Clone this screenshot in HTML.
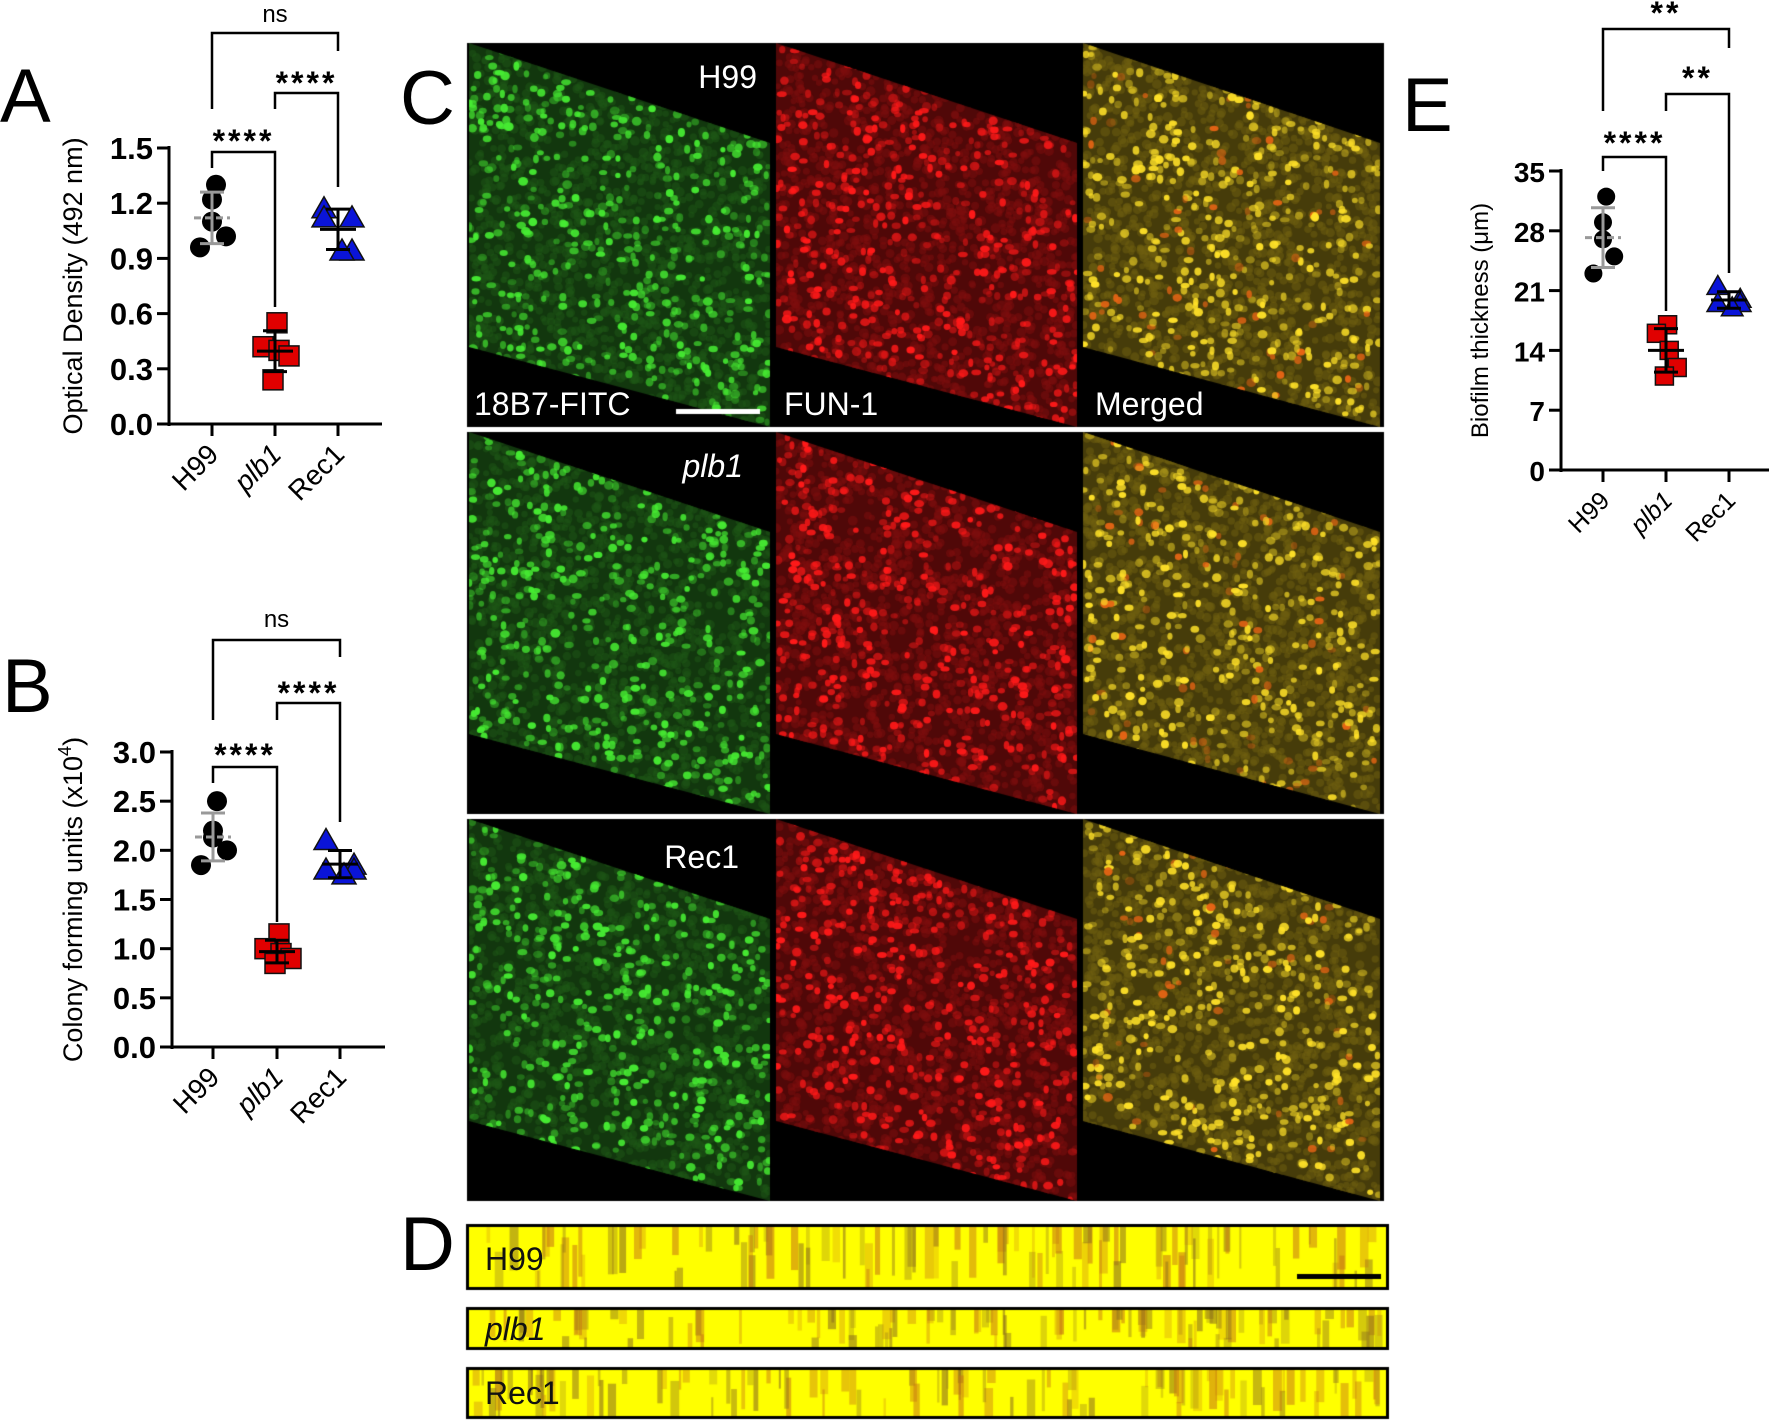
<!DOCTYPE html>
<html><head><meta charset="utf-8">
<style>
body{margin:0;background:#fff;}
#root{position:relative;width:1772px;height:1421px;overflow:hidden;background:#fff;font-family:"Liberation Sans",sans-serif;}
svg{position:absolute;left:0;top:0}
canvas{position:absolute}
</style></head>
<body>
<div id="root">
<canvas id="cv" width="1772" height="1421" style="left:0;top:0"></canvas>
<svg id="sv" width="1772" height="1421"></svg>
</div>
<script>
// ---- chart data ----
const categories = ["H99","plb1","Rec1"];
const aH99 = [1.30,1.22,1.10,1.02,0.96];
const aPlb1 = [0.55,0.42,0.40,0.37,0.24];
const aRec1 = [1.17,1.12,1.12,0.94,0.94];
const aTicks = ["0.0","0.3","0.6","0.9","1.2","1.5"];
const bH99 = [2.50,2.20,2.13,2.00,1.85];
const bPlb1 = [1.15,1.00,0.95,0.90,0.85];
const bRec1 = [2.10,1.85,1.80,1.80,1.75];
const bTicks = ["0.0","0.5","1.0","1.5","2.0","2.5","3.0"];
const eH99 = [32,29,27,25,23];
const ePlb1 = [17,16,14,12,11];
const eRec1 = [21.5,20,19.5,19.5,19];
const eTicks = ["0","7","14","21","28","35"];

const NS="http://www.w3.org/2000/svg";
const sv=document.getElementById('sv');
function el(tag,attrs,parent,txt){const e=document.createElementNS(NS,tag);for(const k in attrs)e.setAttribute(k,attrs[k]);if(txt!==undefined)e.textContent=txt;(parent||sv).appendChild(e);return e;}
function mean(a){return a.reduce((s,v)=>s+v,0)/a.length;}
function sd(a){const m=mean(a);return Math.sqrt(a.reduce((s,v)=>s+(v-m)*(v-m),0)/(a.length-1));}

const jitter=[[4,0,0,14,-12],[2,-12,4,14,-2],[-14,14,-14,14,4]];

function plot(cfg){
  const g=el('g',{});
  
  
  const ticks=cfg.ticks.map(Number);
  const ymin=ticks[0],ymax=ticks[ticks.length-1];
  const Y=v=>cfg.y0+(v-ymin)/(ymax-ymin)*(cfg.y1-cfg.y0);
  const X=i=>cfg.xs[i];
  const ya=el('line',{x1:cfg.ax,y1:cfg.y1-2,x2:cfg.ax,y2:cfg.y0+2,stroke:'#000','stroke-width':3},g);
  
  const xa=el('line',{x1:cfg.ax-12,y1:cfg.y0,x2:cfg.axEnd,y2:cfg.y0,stroke:'#000','stroke-width':3},g);
  
  cfg.ticks.forEach((t,i)=>{
    const y=Y(ticks[i]);
    el('line',{x1:cfg.ax-12,y1:y,x2:cfg.ax,y2:y,stroke:'#000','stroke-width':3},g);
    const tx=el('text',{x:cfg.ax-16,y:y+11,'text-anchor':'end','font-size':cfg.tickFs||31,'font-weight':'bold'},g,t);
    
  });
  categories.forEach((c,i)=>{
    el('line',{x1:X(i),y1:cfg.y0,x2:X(i),y2:cfg.y0+12,stroke:'#000','stroke-width':3},g);
    const tx=el('text',{x:X(i)+8,y:cfg.y0+32,'text-anchor':'end','font-size':cfg.catFs||28,'font-style':c==='plb1'?'italic':'normal',transform:`rotate(-45 ${X(i)+8} ${cfg.y0+32})`},g,c);
    
  });
  const yl=el('text',{x:cfg.ylx,y:(cfg.y0+cfg.y1)/2,'text-anchor':'middle','font-size':cfg.ylFs||27,transform:`rotate(-90 ${cfg.ylx} ${(cfg.y0+cfg.y1)/2})`},g);
  yl.innerHTML=cfg.ylabel;
  
  const cols=['#000','#e00000','#0a14d8'];
  cfg.series.forEach((s,i)=>{
    s.forEach((v,j)=>{
      const x=X(i)+jitter[i][j]*cfg.js,y=Y(v);let m;const r=cfg.r;
      if(i===0)m=el('circle',{cx:x,cy:y,r:r,fill:'#000'},g);
      else if(i===1)m=el('rect',{x:x-r,y:y-r,width:2*r,height:2*r,fill:cols[1],stroke:'#111','stroke-width':1.5},g);
      else m=el('polygon',{points:`${x},${y-r*1.2} ${x+r*1.2},${y+r*0.9} ${x-r*1.2},${y+r*0.9}`,fill:cols[2],stroke:'#111','stroke-width':1.5},g);
      
      
    });
    const m=mean(s),d=sd(s),col=i===0?'#999':'#000';
    el('line',{x1:X(i),y1:Y(m+d),x2:X(i),y2:Y(m-d),stroke:col,'stroke-width':3},g);
    el('line',{x1:X(i)-12,y1:Y(m+d),x2:X(i)+12,y2:Y(m+d),stroke:col,'stroke-width':3},g);
    el('line',{x1:X(i)-12,y1:Y(m-d),x2:X(i)+12,y2:Y(m-d),stroke:col,'stroke-width':3},g);
    const ml=el('line',{x1:X(i)-18,y1:Y(m),x2:X(i)+18,y2:Y(m),stroke:col,'stroke-width':3,'stroke-dasharray':i===0?'7,4':'none'},g);
    
  });
  cfg.brackets.forEach(b=>{
    const p=el('path',{d:`M${X(b.a)},${b.ya} V${b.y} H${X(b.b)} V${b.yb}`,fill:'none',stroke:'#000','stroke-width':2.5},g);
    
    const t=el('text',{x:(X(b.a)+X(b.b))/2,y:b.ty,'text-anchor':'middle','font-size':b.t==='ns'?24:32,'font-weight':b.t==='ns'?'normal':'bold','letter-spacing':b.t==='ns'?0:3},g,b.t);
    
  });
}

plot({name:'panel-a-chart',ticks:aTicks,y0:424,y1:148,ax:169,axEnd:382,xs:[212,275,338],r:10,js:1,
  series:[aH99,aPlb1,aRec1],ylx:82,ylabel:'Optical Density (492 nm)',
  brackets:[{a:0,b:2,y:33,ya:109,yb:51,t:'ns',ty:22},{a:1,b:2,y:93,ya:109,yb:187,t:'****',ty:94},{a:0,b:1,y:152,ya:168,yb:307,t:'****',ty:152}]});
plot({name:'panel-b-chart',ticks:bTicks,y0:1047,y1:752,ax:172,axEnd:385,xs:[213,277,340],r:10,js:1,
  series:[bH99,bPlb1,bRec1],ylx:82,ylabel:'Colony forming units (x10<tspan dy="-11" font-size="18">4</tspan><tspan dy="11">)</tspan>',
  brackets:[{a:0,b:2,y:640,ya:720,yb:657,t:'ns',ty:627},{a:1,b:2,y:703,ya:720,yb:822,t:'****',ty:704},{a:0,b:1,y:767,ya:783,yb:922,t:'****',ty:766}]});
plot({name:'panel-e-chart',ticks:eTicks,y0:470,y1:171,ax:1561,axEnd:1769,xs:[1603,1666,1729],r:9,js:0.8,tickFs:28,catFs:25,ylFs:24,
  series:[eH99,ePlb1,eRec1],ylx:1488,ylabel:'Biofilm thickness (μm)',
  brackets:[{a:0,b:2,y:29,ya:111,yb:48,t:'**',ty:24},{a:1,b:2,y:94,ya:111,yb:273,t:'**',ty:89},{a:0,b:1,y:157,ya:171,yb:311,t:'****',ty:154}]});

[['A',0,122],['B',2,712],['C',400,124],['D',400,1270],['E',1402,131]].forEach(l=>{
  const t=el('text',{x:l[1],y:l[2],'font-size':76},sv,l[0]);
  
});

// ---- microscopy images (texture) ----
const cv=document.getElementById('cv'),cx=cv.getContext('2d');
let seed=7;function rnd(){seed=(seed*16807)%2147483647;return seed/2147483647;}
const rows=[[43,427],[432,814],[819,1201]];
const cols=[[467,774],[774,1081],[1081,1384]];
const pal=[[[18,55,14],[70,235,50]],[[80,8,8],[255,25,25]],[[70,60,10],[255,225,40]]];
rows.forEach(r=>{
  cx.fillStyle='#000';cx.fillRect(467,r[0],917,r[1]-r[0]);
  cols.forEach((c,ci)=>{
    const x0=c[0]+2,x1=c[1]-4,t=r[0],b=r[1];
    cx.save();cx.beginPath();cx.moveTo(x0,t);cx.lineTo(x1,t+100);cx.lineTo(x1,b);cx.lineTo(x0,b-80);cx.closePath();cx.clip();
    const [bg,fg]=pal[ci];
    cx.fillStyle=`rgb(${bg})`;cx.fillRect(x0,t,x1-x0,b-t);
    for(let k=0;k<1600;k++){
      const px=x0+rnd()*(x1-x0),py=t+rnd()*(b-t),a=rnd();
      cx.fillStyle=`rgba(${bg.map(v=>Math.min(255,v*1.6))},0.5)`;
      cx.beginPath();cx.arc(px,py,3+rnd()*2,0,7);cx.fill();
    }
    for(let k=0;k<650;k++){
      const px=x0+rnd()*(x1-x0),py=t+rnd()*(b-t),a=rnd();
      let c2=fg;if(ci===2&&rnd()<0.12)c2=[230,100,20];
      cx.fillStyle=`rgba(${c2},${0.3+a*0.7})`;
      cx.beginPath();cx.ellipse(px,py,2.5+rnd()*2.5,2.5+rnd()*2,0,0,7);cx.fill();
    }
    cx.restore();
  });
});
cx.fillStyle='#fff';cx.fillRect(467,427,917,5);cx.fillRect(467,814,917,5);
cx.fillStyle='#fff';cx.fillRect(676,409,84,5);
[[1224,1290],[1307,1350],[1367,1419]].forEach(s=>{
  cx.fillStyle='#000';cx.fillRect(466,s[0],923,s[1]-s[0]);
  cx.fillStyle='#ffff00';cx.fillRect(469,s[0]+3,917,s[1]-s[0]-6);
  for(let k=0;k<110;k++){
    const px=469+rnd()*910,h=(s[1]-s[0])*(0.2+rnd()*0.6),top=rnd()<0.7?s[0]+3:s[1]-3-h;
    cx.fillStyle=`rgba(${rnd()<0.5?'200,120,20':'140,110,30'},${0.25+rnd()*0.35})`;
    cx.fillRect(px,top,2+rnd()*7,h);
  }
});
cx.fillStyle='#000';cx.fillRect(1297,1274,84,5);

[['H99',757,88,'end','white','normal'],['18B7-FITC',474,415,'start','white','normal'],['FUN-1',784,415,'start','white','normal'],['Merged',1095,415,'start','white','normal'],
 ['plb1',743,477,'end','white','italic'],['Rec1',739,868,'end','white','normal'],
 ['H99',485,1270,'start','#111','normal'],['plb1',485,1340,'start','#111','italic'],['Rec1',485,1404,'start','#111','normal']].forEach(l=>{
  const t=el('text',{x:l[1],y:l[2],'text-anchor':l[3],fill:l[4],'font-style':l[5],'font-size':32},sv,l[0]);
  
});
</script>
</body></html>
